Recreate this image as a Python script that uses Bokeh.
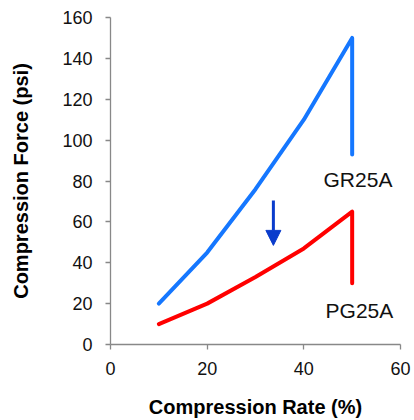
from bokeh.plotting import figure
from bokeh.models import FixedTicker, Range1d, Arrow, NormalHead, ColumnDataSource
from bokeh.core.properties import value
from bokeh.embed import file_html
from bokeh.resources import INLINE

# data
rate = [10, 20, 30, 40, 50, 50]
gr25a = [20, 45, 76, 110, 150, 93]
pg25a = [10, 20, 33, 47, 65, 30]
series_labels = ["GR25A", "PG25A"]
label_x = [51.2, 51.5]
label_y = [80.5, 16.5]
arrow_x = 33.7
arrow_y_start = 70.5
arrow_y_end = 48.5
x_ticks = [0, 20, 40, 60]
y_ticks = [0, 20, 40, 60, 80, 100, 120, 140, 160]

FONT = "Liberation Sans"

p = figure(width=414, height=420, output_backend="svg", toolbar_location=None,
           x_range=Range1d(0, 60), y_range=Range1d(0, 160),
           min_border_left=110, min_border_right=14, min_border_top=17, min_border_bottom=10)
p.outline_line_color = None
p.grid.visible = False
p.background_fill_color = "white"

p.line(rate, gr25a, line_color="#1577ff", line_width=4, line_join="round", line_cap="round")
p.line(rate, pg25a, line_color="#ff0000", line_width=4, line_join="round", line_cap="round")

p.add_layout(Arrow(end=NormalHead(size=15, fill_color="#0a3ccc", line_color="#0a3ccc"),
                   x_start=arrow_x, y_start=arrow_y_start, x_end=arrow_x, y_end=arrow_y_end,
                   line_color="#0a3ccc", line_width=3))

src = ColumnDataSource(dict(x=label_x, y=label_y, t=series_labels))
p.text(x="x", y="y", text="t", source=src, text_font=value(FONT), text_font_size="21px",
       text_align="center", text_baseline="middle", text_color="#111111")

for ax in (p.xaxis[0], p.yaxis[0]):
    ax.axis_line_color = "#888888"
    ax.axis_line_width = 1.3
    ax.major_tick_line_color = "#888888"
    ax.major_tick_line_width = 1.3
    ax.major_tick_out = 5
    ax.major_tick_in = 0
    ax.minor_tick_line_color = None
    ax.major_label_text_font = FONT
    ax.major_label_text_font_size = "18px"
    ax.major_label_text_color = "#111111"
    ax.axis_label_text_font = FONT
    ax.axis_label_text_font_size = "20px"
    ax.axis_label_text_font_style = "bold"
    ax.axis_label_text_color = "#000000"

p.xaxis.ticker = FixedTicker(ticks=x_ticks)
p.yaxis.ticker = FixedTicker(ticks=y_ticks)
p.xaxis.axis_label = "Compression Rate (%)"
p.yaxis.axis_label = "Compression Force (psi)"
p.xaxis.major_label_standoff = 12
p.xaxis.axis_label_standoff = 18
p.yaxis.major_label_standoff = 13
p.yaxis.axis_label_standoff = 27

open("out.html", "w").write(file_html(p, INLINE))
